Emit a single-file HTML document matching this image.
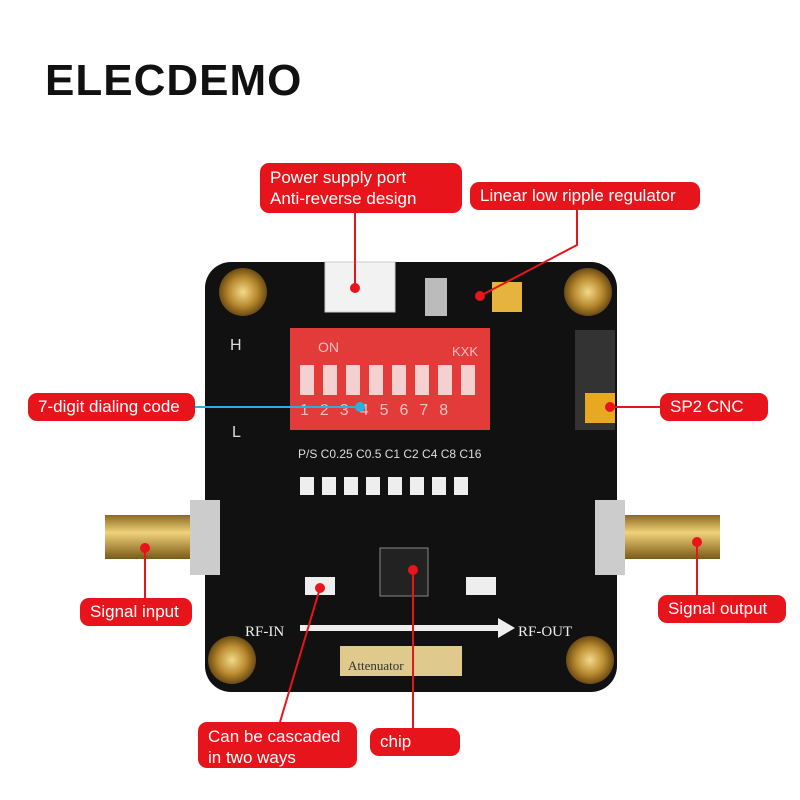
<!DOCTYPE html>
<html><head><meta charset="utf-8"><style>
body{margin:0;width:800px;height:800px;background:#fff;position:relative;overflow:hidden;font-family:"Liberation Sans",sans-serif}
.t{position:absolute;left:45px;top:56px;font-size:44px;font-weight:bold;letter-spacing:1px;color:#111}
.lab{position:absolute;background:#e8141b;color:#fff;border-radius:9px;font-size:17px;line-height:21px;padding:4px 10px;box-sizing:border-box;white-space:nowrap}
</style></head><body>
<div class="t">ELECDEMO</div>
<svg width="800" height="800" style="position:absolute;left:0;top:0">
<defs><radialGradient id="g"><stop offset="0" stop-color="#f3d98a"/><stop offset=".6" stop-color="#b88a2e"/><stop offset="1" stop-color="#6b4a14"/></radialGradient>
<linearGradient id="sma" x1="0" y1="0" x2="0" y2="1"><stop offset="0" stop-color="#8a6a20"/><stop offset=".4" stop-color="#f0d27a"/><stop offset="1" stop-color="#7a5a18"/></linearGradient></defs>
<rect x="205" y="262" width="412" height="430" rx="26" fill="#111"/>
<circle cx="243" cy="292" r="24" fill="url(#g)"/><circle cx="588" cy="292" r="24" fill="url(#g)"/>
<circle cx="232" cy="660" r="24" fill="url(#g)"/><circle cx="590" cy="660" r="24" fill="url(#g)"/>
<rect x="325" y="262" width="70" height="50" fill="#f2f2f2" stroke="#ccc"/>
<rect x="425" y="278" width="22" height="38" fill="#bbb"/><rect x="492" y="282" width="30" height="30" fill="#e6b33c"/>
<rect x="290" y="328" width="200" height="102" fill="#e33a3a"/>
<g fill="#f4d0d0"><rect x="300" y="365" width="14" height="30"/><rect x="323" y="365" width="14" height="30"/><rect x="346" y="365" width="14" height="30"/><rect x="369" y="365" width="14" height="30"/><rect x="392" y="365" width="14" height="30"/><rect x="415" y="365" width="14" height="30"/><rect x="438" y="365" width="14" height="30"/><rect x="461" y="365" width="14" height="30"/></g>
<text x="318" y="352" fill="#f6c0c0" font-size="14">ON</text><text x="452" y="356" fill="#f6c0c0" font-size="13">KXK</text>
<text x="300" y="415" fill="#f6c0c0" font-size="16" letter-spacing="11">12345678</text>
<text x="230" y="350" fill="#ddd" font-size="16">H</text><text x="232" y="437" fill="#ddd" font-size="16">L</text>
<text x="298" y="458" fill="#ddd" font-size="12">P/S C0.25 C0.5  C1  C2  C4  C8 C16</text>
<g fill="#eee"><rect x="300" y="477" width="14" height="18"/><rect x="322" y="477" width="14" height="18"/><rect x="344" y="477" width="14" height="18"/><rect x="366" y="477" width="14" height="18"/><rect x="388" y="477" width="14" height="18"/><rect x="410" y="477" width="14" height="18"/><rect x="432" y="477" width="14" height="18"/><rect x="454" y="477" width="14" height="18"/></g>
<rect x="575" y="330" width="40" height="100" fill="#333"/><rect x="585" y="393" width="30" height="30" fill="#e8a820"/>
<rect x="105" y="515" width="110" height="44" fill="url(#sma)"/><rect x="190" y="500" width="30" height="75" fill="#ccc"/>
<rect x="605" y="515" width="115" height="44" fill="url(#sma)"/><rect x="595" y="500" width="30" height="75" fill="#ccc"/>
<rect x="380" y="548" width="48" height="48" fill="#222" stroke="#888"/>
<rect x="305" y="577" width="30" height="18" fill="#eee"/><rect x="466" y="577" width="30" height="18" fill="#eee"/>
<text x="245" y="636" fill="#eee" font-size="15" font-family="Liberation Serif">RF-IN</text>
<text x="518" y="636" fill="#eee" font-size="15" font-family="Liberation Serif">RF-OUT</text>
<path d="M300 628 H500" stroke="#eee" stroke-width="6"/><path d="M498 618 L515 628 L498 638Z" fill="#eee"/>
<rect x="340" y="646" width="122" height="30" fill="#e0c98c"/><text x="348" y="670" font-size="13" fill="#333" font-family="Liberation Serif">Attenuator</text>
<g stroke="#e8141b" stroke-width="2" fill="none">
<path d="M355 213 V288"/><path d="M577 210 V245 L480 296"/><path d="M660 407 H610"/>
<path d="M145 598 V548"/><path d="M697 595 V542"/><path d="M280 722 L320 588"/><path d="M413 728 V570"/></g>
<path d="M195 407 H360" stroke="#2ab0e0" stroke-width="2"/>
<g fill="#e8141b"><circle cx="355" cy="288" r="5"/><circle cx="480" cy="296" r="5"/><circle cx="610" cy="407" r="5"/><circle cx="145" cy="548" r="5"/><circle cx="697" cy="542" r="5"/><circle cx="320" cy="588" r="5"/><circle cx="413" cy="570" r="5"/></g>
<circle cx="360" cy="407" r="5" fill="#2ab0e0"/>
</svg>
<div class="lab" style="left:260px;top:163px;width:202px;height:50px">Power supply port<br>Anti-reverse design</div>
<div class="lab" style="left:470px;top:182px;width:230px;height:28px;line-height:20px">Linear low ripple regulator</div>
<div class="lab" style="left:28px;top:393px;width:167px;height:28px;line-height:20px">7-digit dialing code</div>
<div class="lab" style="left:660px;top:393px;width:108px;height:28px;line-height:20px">SP2 CNC</div>
<div class="lab" style="left:80px;top:598px;width:112px;height:28px;line-height:20px">Signal input</div>
<div class="lab" style="left:658px;top:595px;width:128px;height:28px;line-height:20px">Signal output</div>
<div class="lab" style="left:198px;top:722px;width:159px;height:46px">Can be cascaded<br>in two ways</div>
<div class="lab" style="left:370px;top:728px;width:90px;height:28px;line-height:20px">chip</div>
</body></html>
